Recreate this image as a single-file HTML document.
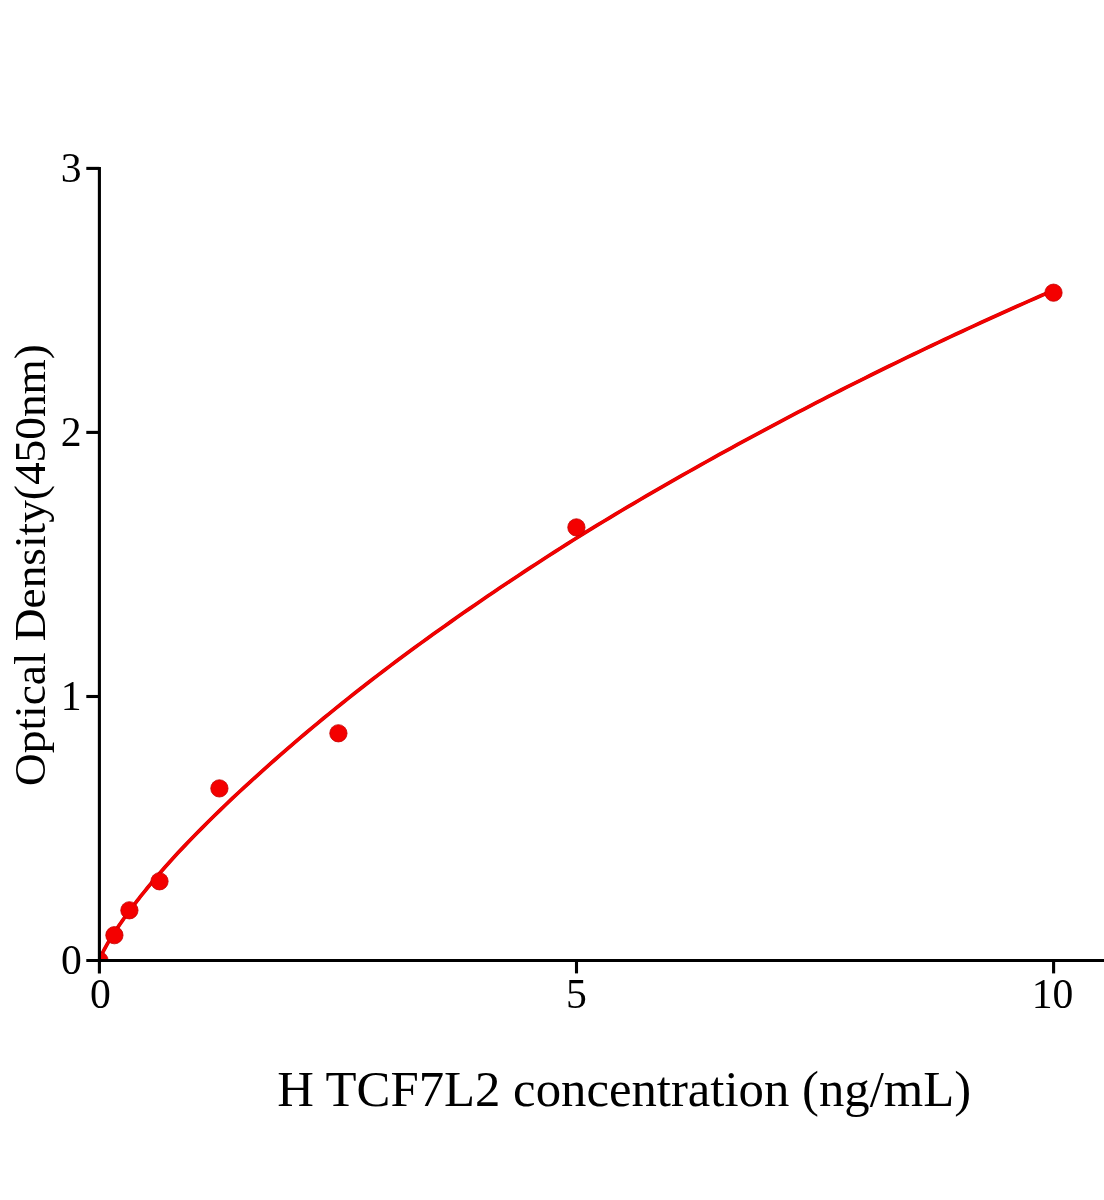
<!DOCTYPE html>
<html><head><meta charset="utf-8"><title>H TCF7L2 standard curve</title>
<style>
html,body{margin:0;padding:0;background:#fff;}
body{width:1104px;height:1200px;overflow:hidden;}
svg{display:block;}
text{font-family:"Liberation Serif","Times New Roman",serif;fill:#000;}
.tick{font-size:41.67px;}
</style></head><body>
<svg width="1104" height="1200" viewBox="0 0 1104 1200">
<rect width="1104" height="1200" fill="#fff"/>
<path d="M99.40 960.50 L101.05 956.01 L102.69 952.51 L104.34 949.32 L105.98 946.31 L107.63 943.43 L109.27 940.65 L110.92 937.95 L112.56 935.33 L114.21 932.76 L115.85 930.25 L117.50 927.78 L119.14 925.36 L120.79 922.97 L122.43 920.62 L124.08 918.30 L125.72 916.01 L127.37 913.74 L129.01 911.51 L130.66 909.29 L132.30 907.11 L133.95 904.94 L135.59 902.79 L137.24 900.67 L138.88 898.56 L140.53 896.47 L142.17 894.40 L143.82 892.34 L145.46 890.30 L147.11 888.28 L153.19 880.92 L159.28 873.74 L165.36 866.74 L171.45 859.96 L177.53 853.34 L183.61 846.88 L189.70 840.53 L195.78 834.28 L201.86 828.11 L207.95 822.01 L214.03 816.01 L220.12 810.08 L226.20 804.23 L232.28 798.46 L238.37 792.74 L244.45 787.10 L250.54 781.52 L256.62 776.01 L262.70 770.55 L268.79 765.14 L274.87 759.76 L280.95 754.42 L287.04 749.11 L293.12 743.86 L299.21 738.65 L305.29 733.49 L311.37 728.38 L317.46 723.31 L323.54 718.29 L329.62 713.31 L335.71 708.37 L341.79 703.47 L347.88 698.61 L353.96 693.79 L360.04 689.01 L366.13 684.26 L372.21 679.55 L378.30 674.88 L384.38 670.24 L390.46 665.64 L396.55 661.07 L402.63 656.53 L408.71 652.03 L414.80 647.56 L420.88 643.12 L426.97 638.71 L433.05 634.34 L439.13 629.99 L445.22 625.67 L451.30 621.37 L457.39 617.10 L463.47 612.85 L469.55 608.62 L475.64 604.42 L481.72 600.24 L487.80 596.08 L493.89 591.95 L499.97 587.84 L506.06 583.76 L512.14 579.71 L518.22 575.67 L524.31 571.67 L530.39 567.67 L536.47 563.70 L542.56 559.74 L548.64 555.81 L554.73 551.89 L560.81 548.00 L566.89 544.13 L572.98 540.29 L579.06 536.47 L585.15 532.69 L591.23 528.93 L597.31 525.20 L603.40 521.50 L609.48 517.83 L615.56 514.17 L621.65 510.53 L627.73 506.92 L633.82 503.32 L639.90 499.74 L645.98 496.18 L652.07 492.63 L658.15 489.11 L664.24 485.60 L670.32 482.11 L676.40 478.64 L682.49 475.18 L688.57 471.74 L694.65 468.31 L700.74 464.90 L706.82 461.50 L712.91 458.11 L718.99 454.74 L725.07 451.38 L731.16 448.04 L737.24 444.71 L743.32 441.40 L749.41 438.10 L755.49 434.82 L761.58 431.55 L767.66 428.30 L773.74 425.05 L779.83 421.82 L785.91 418.61 L792.00 415.40 L798.08 412.21 L804.16 409.03 L810.25 405.86 L816.33 402.71 L822.41 399.58 L828.50 396.46 L834.58 393.35 L840.67 390.26 L846.75 387.19 L852.83 384.12 L858.92 381.08 L865.00 378.04 L871.09 375.02 L877.17 372.01 L883.25 369.02 L889.34 366.03 L895.42 363.06 L901.50 360.11 L907.59 357.16 L913.67 354.23 L919.76 351.32 L925.84 348.41 L931.92 345.51 L938.01 342.63 L944.09 339.76 L950.17 336.90 L956.26 334.05 L962.34 331.21 L968.43 328.39 L974.51 325.58 L980.59 322.78 L986.68 320.00 L992.76 317.23 L998.85 314.47 L1004.93 311.73 L1011.01 309.01 L1017.10 306.29 L1023.18 303.59 L1029.26 300.90 L1035.35 298.23 L1041.43 295.56 L1047.52 292.91 L1053.60 290.27" fill="none" stroke="#cc0000" stroke-width="3.7" stroke-linejoin="round" stroke-linecap="round"/>
<path d="M99.40 960.50 L101.05 956.01 L102.69 952.51 L104.34 949.32 L105.98 946.31 L107.63 943.43 L109.27 940.65 L110.92 937.95 L112.56 935.33 L114.21 932.76 L115.85 930.25 L117.50 927.78 L119.14 925.36 L120.79 922.97 L122.43 920.62 L124.08 918.30 L125.72 916.01 L127.37 913.74 L129.01 911.51 L130.66 909.29 L132.30 907.11 L133.95 904.94 L135.59 902.79 L137.24 900.67 L138.88 898.56 L140.53 896.47 L142.17 894.40 L143.82 892.34 L145.46 890.30 L147.11 888.28 L153.19 880.92 L159.28 873.74 L165.36 866.74 L171.45 859.96 L177.53 853.34 L183.61 846.88 L189.70 840.53 L195.78 834.28 L201.86 828.11 L207.95 822.01 L214.03 816.01 L220.12 810.08 L226.20 804.23 L232.28 798.46 L238.37 792.74 L244.45 787.10 L250.54 781.52 L256.62 776.01 L262.70 770.55 L268.79 765.14 L274.87 759.76 L280.95 754.42 L287.04 749.11 L293.12 743.86 L299.21 738.65 L305.29 733.49 L311.37 728.38 L317.46 723.31 L323.54 718.29 L329.62 713.31 L335.71 708.37 L341.79 703.47 L347.88 698.61 L353.96 693.79 L360.04 689.01 L366.13 684.26 L372.21 679.55 L378.30 674.88 L384.38 670.24 L390.46 665.64 L396.55 661.07 L402.63 656.53 L408.71 652.03 L414.80 647.56 L420.88 643.12 L426.97 638.71 L433.05 634.34 L439.13 629.99 L445.22 625.67 L451.30 621.37 L457.39 617.10 L463.47 612.85 L469.55 608.62 L475.64 604.42 L481.72 600.24 L487.80 596.08 L493.89 591.95 L499.97 587.84 L506.06 583.76 L512.14 579.71 L518.22 575.67 L524.31 571.67 L530.39 567.67 L536.47 563.70 L542.56 559.74 L548.64 555.81 L554.73 551.89 L560.81 548.00 L566.89 544.13 L572.98 540.29 L579.06 536.47 L585.15 532.69 L591.23 528.93 L597.31 525.20 L603.40 521.50 L609.48 517.83 L615.56 514.17 L621.65 510.53 L627.73 506.92 L633.82 503.32 L639.90 499.74 L645.98 496.18 L652.07 492.63 L658.15 489.11 L664.24 485.60 L670.32 482.11 L676.40 478.64 L682.49 475.18 L688.57 471.74 L694.65 468.31 L700.74 464.90 L706.82 461.50 L712.91 458.11 L718.99 454.74 L725.07 451.38 L731.16 448.04 L737.24 444.71 L743.32 441.40 L749.41 438.10 L755.49 434.82 L761.58 431.55 L767.66 428.30 L773.74 425.05 L779.83 421.82 L785.91 418.61 L792.00 415.40 L798.08 412.21 L804.16 409.03 L810.25 405.86 L816.33 402.71 L822.41 399.58 L828.50 396.46 L834.58 393.35 L840.67 390.26 L846.75 387.19 L852.83 384.12 L858.92 381.08 L865.00 378.04 L871.09 375.02 L877.17 372.01 L883.25 369.02 L889.34 366.03 L895.42 363.06 L901.50 360.11 L907.59 357.16 L913.67 354.23 L919.76 351.32 L925.84 348.41 L931.92 345.51 L938.01 342.63 L944.09 339.76 L950.17 336.90 L956.26 334.05 L962.34 331.21 L968.43 328.39 L974.51 325.58 L980.59 322.78 L986.68 320.00 L992.76 317.23 L998.85 314.47 L1004.93 311.73 L1011.01 309.01 L1017.10 306.29 L1023.18 303.59 L1029.26 300.90 L1035.35 298.23 L1041.43 295.56 L1047.52 292.91 L1053.60 290.27" fill="none" stroke="#f40000" stroke-width="2.7" stroke-linejoin="round" stroke-linecap="round"/>
<defs><clipPath id="plot"><rect x="99.4" y="0" width="1010" height="960.5"/></clipPath></defs>
<g fill="#f40000" stroke="#c40000" stroke-width="0.8" clip-path="url(#plot)">
<circle cx="99.5" cy="960.5" r="8.65"/>
<circle cx="114.4" cy="935.2" r="8.65"/>
<circle cx="129.4" cy="910.3" r="8.65"/>
<circle cx="159.5" cy="881.3" r="8.65"/>
<circle cx="219.4" cy="788.4" r="8.65"/>
<circle cx="338.4" cy="733.3" r="8.65"/>
<circle cx="576.4" cy="527.4" r="8.65"/>
<circle cx="1053.5" cy="292.7" r="8.65"/>
</g>
<g stroke="#000" stroke-width="3.1" fill="none" stroke-linecap="butt">
<line x1="99.4" y1="166.9" x2="99.4" y2="973.4"/>
<line x1="86.3" y1="960.5" x2="1104" y2="960.5"/>
<line x1="86.3" y1="168.4" x2="99.4" y2="168.4"/>
<line x1="86.3" y1="432.4" x2="99.4" y2="432.4"/>
<line x1="86.3" y1="696.5" x2="99.4" y2="696.5"/>
<line x1="576.5" y1="960.5" x2="576.5" y2="973.4"/>
<line x1="1053.6" y1="960.5" x2="1053.6" y2="973.4"/>
</g>
<g class="tick" text-anchor="end">
<text x="81.7" y="182.3">3</text>
<text x="81.7" y="446.3">2</text>
<text x="81.7" y="710.2">1</text>
<text x="81.9" y="974.4">0</text>
</g>
<g class="tick" text-anchor="middle">
<text x="100.3" y="1007.8">0</text>
<text x="576.4" y="1008.2">5</text>
<text x="1052.6" y="1008">10</text>
</g>
<text id="xt" x="277.2" y="1106" font-size="50.75">H TCF7L2 concentration (ng/mL)</text>
<text id="yt" transform="translate(45.4,785.9) rotate(-90)" font-size="45.33">Optical Density(450nm)</text>
</svg>
</body></html>
